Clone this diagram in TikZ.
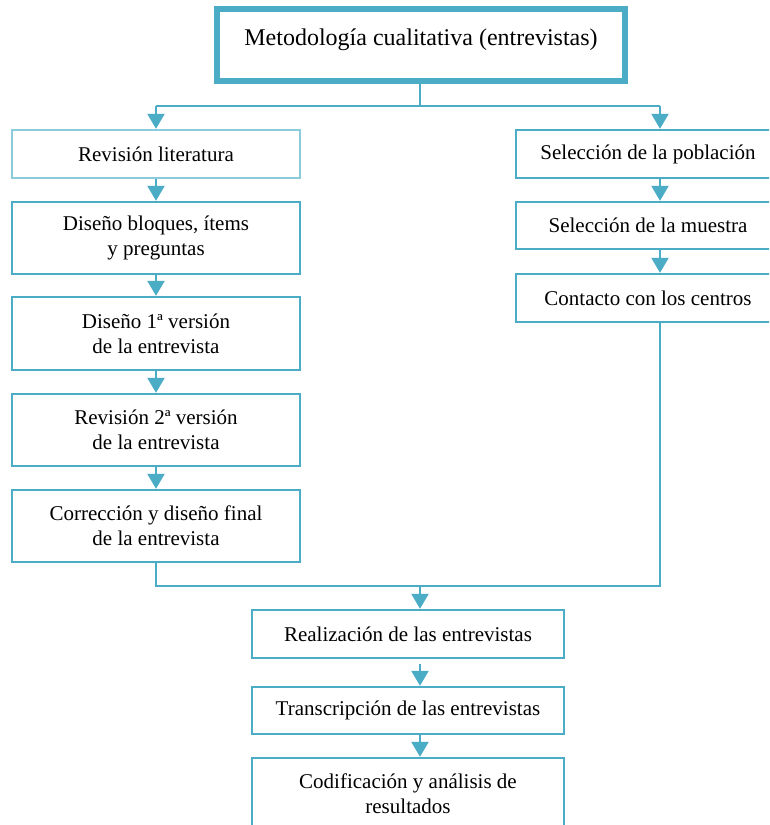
\documentclass[tikz,border=0pt]{standalone}
\usepackage{fontspec}
\setmainfont{Liberation Serif}
\usetikzlibrary{arrows.meta}

\definecolor{acc}{HTML}{4BACC6}
\definecolor{accl}{HTML}{8CCBDC}

\tikzset{
  x=1pt, y=1pt,
  box/.style={draw=acc, line width=2.4pt, rectangle, align=center,
    inner sep=2pt, font=\fontsize{21}{25}\selectfont},
  wbox/.style={box, minimum width=288pt},
  rbox/.style={box, minimum width=264pt},
  link/.style={draw=acc, line width=2.4pt},
  flow/.style={link, -{Triangle[width=17pt,length=15pt]}},
}

\begin{document}
\begin{tikzpicture}
  \useasboundingbox (0,0) rectangle (769,-825);
  \clip (0,0) rectangle (769,-825);

  % heading box
  \node[draw=acc, line width=6pt, minimum width=408pt, minimum height=72pt] (top) at (421,-45) {};
  \node[font=\fontsize{24}{28}\selectfont] (toptext) at (421,-40) {Metodología cualitativa (entrevistas)};

  % left column: design of the interview
  \node[wbox, draw=accl, minimum height=48pt] (rev) at (156,-154) {Revisión literatura};
  \node[wbox, minimum height=72pt] (dis) at (156,-238) {Diseño bloques, ítems\\y preguntas};
  \node[wbox, minimum height=73pt] (d1) at (156,-333.5) {Diseño 1ª versión\\de la entrevista};
  \node[wbox, minimum height=72pt] (r2) at (156,-430) {Revisión 2ª versión\\de la entrevista};
  \node[wbox, minimum height=72pt] (cor) at (156,-526) {Corrección y diseño final\\de la entrevista};

  % right column: sample
  \node[rbox, minimum height=48pt] (pob) at (648,-154) {Selección de la población};
  \node[rbox, minimum height=47pt] (mue) at (648,-225.5) {Selección de la muestra};
  \node[rbox, minimum height=48pt] (con) at (648,-298) {Contacto con los centros};

  % bottom: fieldwork and analysis
  \node[box, minimum width=312pt, minimum height=48pt] (rea) at (408,-634) {Realización de las entrevistas};
  \node[box, minimum width=312pt, minimum height=47pt] (tra) at (408,-710.5) {Transcripción de las entrevistas};
  \node[box, minimum width=312pt, minimum height=72pt] (cod) at (408,-794) {Codificación y análisis de\\resultados};

  % routing points
  \coordinate (busL) at (156,-106);
  \coordinate (busR) at (660,-106);
  \coordinate (rx) at (660,0);
  \coordinate (mx) at (420,0);
  \coordinate (joinR) at (660,-586);
  \coordinate (joinM) at (420,-586);

  % split from the heading
  \draw[link] (mx |- top.south) -- (mx |- busL);
  \draw[link] (busL) -- (busR);
  \draw[flow] (busL) -- (rev.north);
  \draw[flow] (busR) -- (rx |- pob.north);

  % left chain
  \draw[flow] (rev.south) -- (dis.north);
  \draw[flow] (dis.south) -- (d1.north);
  \draw[flow] (d1.south) -- (r2.north);
  \draw[flow] (r2.south) -- (cor.north);

  % right chain
  \draw[flow] (rx |- pob.south) -- (rx |- mue.north);
  \draw[flow] (rx |- mue.south) -- (rx |- con.north);

  % merge of both branches
  \draw[link] (cor.south) |- (joinR) -- (rx |- con.south);
  \draw[flow] (joinM) -- (mx |- rea.north);

  % bottom chain
  \draw[flow] ([yshift=-5pt]mx |- rea.south) -- (mx |- tra.north);
  \draw[flow] (mx |- tra.south) -- (mx |- cod.north);
\end{tikzpicture}
\end{document}
